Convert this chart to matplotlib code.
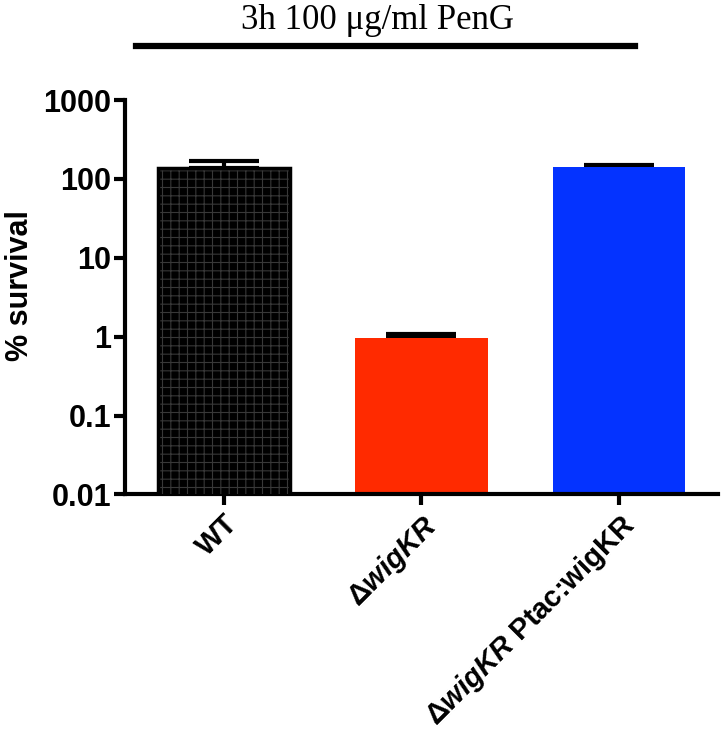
import matplotlib
matplotlib.use('Agg')
import matplotlib.pyplot as plt
import numpy as np

# data
strains = ['WT', 'ΔwigKR', 'ΔwigKR Ptac:wigKR']
survival = [136, 0.95, 143]
err_up = [34, 0.12, 6]
bar_colors = ['black', '#FF2A00', '#0433FF']

plt.rcParams['font.family'] = ['Liberation Sans', 'DejaVu Sans']
plt.rcParams['mathtext.fontset'] = 'custom'
plt.rcParams['mathtext.it'] = 'Liberation Sans:italic:bold'
plt.rcParams['mathtext.rm'] = 'Liberation Sans:bold'
plt.rcParams['mathtext.bf'] = 'Liberation Sans:bold'
plt.rcParams['hatch.linewidth'] = 0.8

fig = plt.figure(figsize=(7.21, 7.42), dpi=100)
ax = fig.add_axes([0.1734, 0.3336, 0.8224, 0.5316])

x = np.arange(len(strains))
ax.bar(x, survival, width=0.67, color=bar_colors, edgecolor='none', zorder=2)
# grid texture on the WT bar
ax.bar(x[:1], survival[:1], width=0.67, facecolor='none', edgecolor='#383838',
       hatch='++', linewidth=0, zorder=3)
ax.bar(x[:1], survival[:1], width=0.67, facecolor='none', edgecolor='black',
       linewidth=2.5, zorder=4)

ax.errorbar(x, survival, yerr=[np.zeros(len(x)), err_up], fmt='none',
            ecolor='black', elinewidth=3, capsize=25, capthick=3, zorder=1)

ax.set_yscale('log')
ax.set_ylim(0.01, 1000)
ax.set_xlim(-0.5, 2.5)
ax.set_yticks([0.01, 0.1, 1, 10, 100, 1000])
ax.set_yticklabels(['0.01', '0.1', '1', '10', '100', '1000'])
ax.yaxis.set_minor_locator(matplotlib.ticker.NullLocator())
ax.set_xticks(x)
labels = ['WT', r'$\mathit{ΔwigKR}$', r'$\mathit{ΔwigKR}$ Ptac:wigKR']
ax.set_xticklabels(labels, rotation=45, ha='right', rotation_mode='anchor')

for lab in ax.get_yticklabels():
    lab.set_fontsize(22)
    lab.set_fontweight('bold')
for lab in ax.get_xticklabels():
    lab.set_fontsize(21)
    lab.set_fontweight('bold')

ax.tick_params(axis='both', length=8, width=3, pad=2)
ax.tick_params(axis='x', pad=3)
ax.spines['top'].set_visible(False)
ax.spines['right'].set_visible(False)
ax.spines['left'].set_linewidth(3)
ax.spines['bottom'].set_linewidth(3)

ax.set_ylabel('% survival', fontsize=22, fontweight='bold')
ax.yaxis.set_label_coords(-0.152, 0.53)

# treatment header
fig.text(0.524, 0.973, '3h 100 μg/ml PenG', fontsize=25,
         family=['Liberation Serif', 'DejaVu Serif'], ha='center', va='center')
fig.add_artist(plt.Line2D([136 / 721, 635 / 721], [1 - 46 / 742, 1 - 46 / 742],
                          color='black', linewidth=4.5))

fig.savefig('out.png', dpi=100)
